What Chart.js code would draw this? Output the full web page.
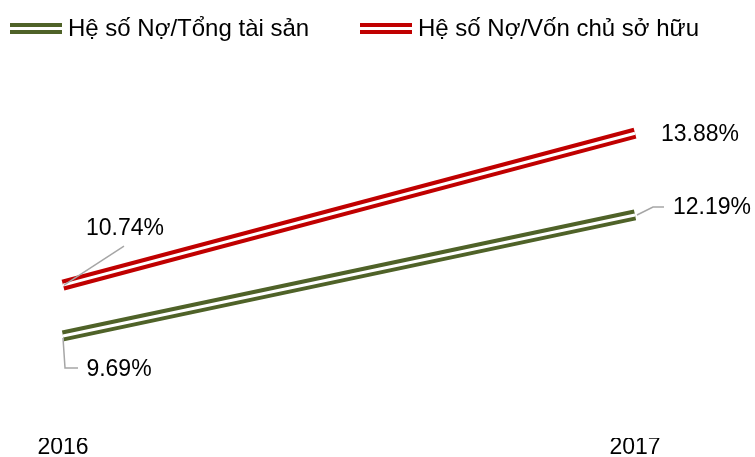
<!DOCTYPE html>
<html>
<head>
<meta charset="utf-8">
<script src="https://cdn.jsdelivr.net/npm/chart.js@4.4.1/dist/chart.umd.min.js"></script>
<style>
  html, body { margin: 0; padding: 0; background: #fff; }
</style>
</head>
<body>
<canvas id="debtChart" width="755" height="457"></canvas>
<script>
// chart data
const years = ['2016', '2017'];
const seriesNames = ['Hệ số Nợ/Tổng tài sản', 'Hệ số Nợ/Vốn chủ sở hữu'];
const debtToAssets = [9.69, 12.19];
const debtToEquity = [10.74, 13.88];

const GREEN = '#4F6228';
const RED = '#C00000';
const FONT = '"Liberation Sans", Arial, sans-serif';

// where each value label sits relative to its point, plus its leader line (px offsets)
const labelPlacement = [
    [ { dx: 56, dy: 34, leader: [[0, 2], [2, 32], [15, 32]] },
      { dx: 77, dy: -7, leader: [[2, 0], [18, -8], [29, -8]] } ],
    [ { dx: 62, dy: -56, leader: [[1, 0], [61, -39]] },
      { dx: 65, dy: 1, leader: null } ]
];

// draws the thin white stripe inside each line so it looks like a double line
const doubleLinePlugin = {
    id: 'doubleLine',
    afterDatasetsDraw(chart) {
        const ctx = chart.ctx;
        ctx.save();
        chart.data.datasets.forEach((ds, i) => {
            const pts = chart.getDatasetMeta(i).data;
            ctx.beginPath();
            pts.forEach((p, j) => {
                if (j === 0) ctx.moveTo(p.x, p.y);
                else ctx.lineTo(p.x, p.y);
            });
            ctx.strokeStyle = '#ffffff';
            ctx.lineWidth = 3;
            ctx.lineCap = 'butt';
            ctx.stroke();
        });
        ctx.restore();
    }
};

// value labels with grey leader lines
const valueLabelPlugin = {
    id: 'valueLabels',
    afterDatasetsDraw(chart) {
        const ctx = chart.ctx;
        ctx.save();
        ctx.font = '23px ' + FONT;
        ctx.textAlign = 'center';
        ctx.textBaseline = 'middle';
        chart.data.datasets.forEach((ds, i) => {
            chart.getDatasetMeta(i).data.forEach((p, j) => {
                const pl = labelPlacement[i][j];
                if (pl.leader) {
                    ctx.beginPath();
                    pl.leader.forEach((o, k) => {
                        if (k === 0) ctx.moveTo(p.x + o[0], p.y + o[1]);
                        else ctx.lineTo(p.x + o[0], p.y + o[1]);
                    });
                    ctx.strokeStyle = '#A6A6A6';
                    ctx.lineWidth = 1.5;
                    ctx.stroke();
                }
                ctx.fillStyle = '#000';
                ctx.fillText(ds.data[j].toFixed(2) + '%', p.x + pl.dx, p.y + pl.dy);
            });
        });
        ctx.restore();
    }
};

// legend drawn by hand: double-line sample + text
const legendPlugin = {
    id: 'doubleLegend',
    afterDraw(chart) {
        const ctx = chart.ctx;
        const starts = [10, 360];
        const y = 28;
        ctx.save();
        ctx.font = '24px ' + FONT;
        ctx.textBaseline = 'middle';
        ctx.textAlign = 'left';
        chart.data.datasets.forEach((ds, i) => {
            const x = starts[i];
            ctx.fillStyle = ds.borderColor;
            ctx.fillRect(x, y - 5, 52, 4);
            ctx.fillRect(x, y + 2, 52, 4);
            ctx.fillStyle = '#000';
            ctx.fillText(ds.label, x + 58, y + 1);
        });
        ctx.restore();
    }
};

new Chart(document.getElementById('debtChart'), {
    type: 'line',
    data: {
        labels: years,
        datasets: [
            {
                label: seriesNames[0],
                data: debtToAssets,
                borderColor: GREEN,
                borderWidth: 11,
                borderCapStyle: 'butt',
                pointRadius: 0,
                tension: 0
            },
            {
                label: seriesNames[1],
                data: debtToEquity,
                borderColor: RED,
                borderWidth: 11,
                borderCapStyle: 'butt',
                pointRadius: 0,
                tension: 0
            }
        ]
    },
    options: {
        responsive: false,
        animation: false,
        layout: { padding: { left: 63, right: 120, top: 79, bottom: 0 } },
        plugins: {
            legend: { display: false },
            tooltip: { enabled: false }
        },
        scales: {
            x: {
                offset: false,
                grid: { display: false, drawTicks: false },
                border: { display: false },
                ticks: { color: '#000', padding: -2, font: { family: FONT, size: 23, lineHeight: 1 }, maxRotation: 0 }
            },
            y: {
                display: false,
                min: 7.58,
                max: 15
            }
        }
    },
    plugins: [doubleLinePlugin, valueLabelPlugin, legendPlugin]
});
</script>
</body>
</html>
